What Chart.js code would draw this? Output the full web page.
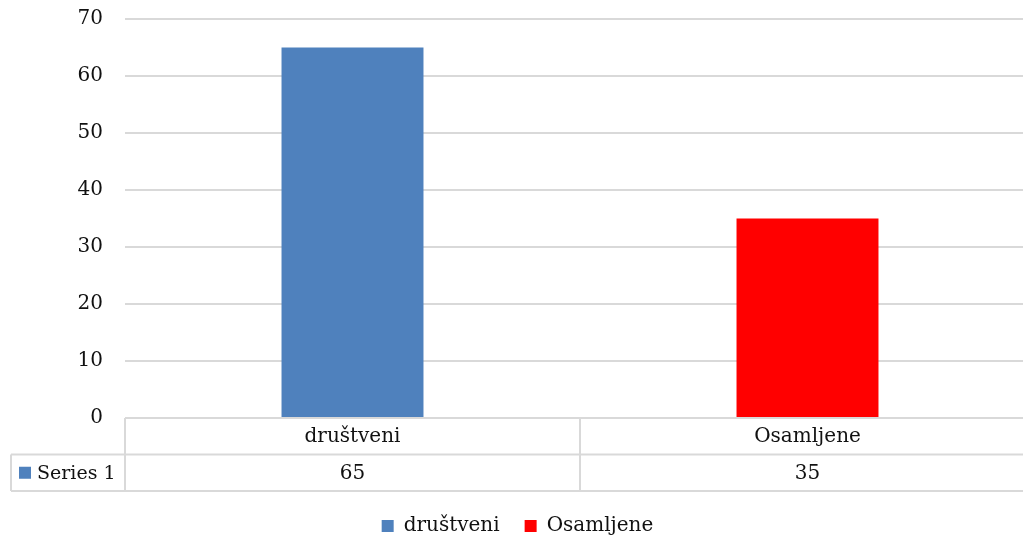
<!DOCTYPE html>
<html>
<head>
<meta charset="utf-8">
<script src="https://cdn.jsdelivr.net/npm/chart.js@4/dist/chart.umd.min.js"></script>
<style>
  html, body { margin: 0; padding: 0; background: #fff; overflow: hidden; width: 1023px; height: 540px; }
  canvas { display: block; }
</style>
</head>
<body>
<!-- canvas is a little larger than the window: the reference is cropped on the right and bottom -->
<canvas id="chart" width="1035" height="546"></canvas>
<script>
// --- Data ---
const categories = ['društveni', 'Osamljene'];
const seriesName = 'Series 1';
const seriesValues = [65, 35];
const barColors = ['#4F81BD', '#FF0000'];
const yTicks = [0, 10, 20, 30, 40, 50, 60, 70];

const FONT = 'DejaVu Serif';
const TEXT = '#111';
const GRID = '#d9d9d9';

// Draws the data table under the plot area (Excel-style)
const dataTablePlugin = {
  id: 'dataTable',
  afterDraw(chart) {
    const ctx = chart.ctx;
    const area = chart.chartArea;
    const x = chart.scales.x;
    const top = area.bottom;
    const rowH = 36.5;
    const mid = top + rowH;
    const bottom = top + rowH * 2;
    const tableLeft = 11;

    ctx.save();
    ctx.strokeStyle = GRID;
    ctx.lineWidth = 2;
    ctx.beginPath();
    // horizontal lines
    ctx.moveTo(area.left, top); ctx.lineTo(area.right, top);
    ctx.moveTo(tableLeft, mid); ctx.lineTo(area.right, mid);
    ctx.moveTo(tableLeft, bottom); ctx.lineTo(area.right, bottom);
    // vertical lines
    ctx.moveTo(tableLeft, mid); ctx.lineTo(tableLeft, bottom);
    ctx.moveTo(area.left, top); ctx.lineTo(area.left, bottom);
    for (let i = 1; i < categories.length; i++) {
      const xb = (x.getPixelForValue(i - 1) + x.getPixelForValue(i)) / 2;
      ctx.moveTo(xb, top); ctx.lineTo(xb, bottom);
    }
    ctx.stroke();

    ctx.fillStyle = TEXT;
    ctx.font = '20px "' + FONT + '"';
    ctx.textAlign = 'center';
    ctx.textBaseline = 'middle';
    categories.forEach((c, i) => {
      const cx = x.getPixelForValue(i);
      ctx.fillText(c, cx, top + rowH / 2 + 1);
      ctx.fillText(String(seriesValues[i]), cx, mid + rowH / 2 + 1);
    });

    // series key
    ctx.fillStyle = barColors[0];
    ctx.fillRect(19, mid + rowH / 2 - 6, 12, 12);
    ctx.fillStyle = TEXT;
    ctx.textAlign = 'left';
    ctx.font = '19px "' + FONT + '"';
    ctx.fillText(seriesName, 37, mid + rowH / 2 + 1);
    ctx.restore();
  }
};

const chart = new Chart(document.getElementById('chart'), {
  type: 'bar',
  data: {
    labels: categories,
    datasets: [{
      label: seriesName,
      data: seriesValues,
      backgroundColor: barColors,
      borderWidth: 0,
      barPercentage: 1,
      categoryPercentage: 0.312
    }]
  },
  options: {
    responsive: false,
    devicePixelRatio: 1,
    animation: false,
    layout: { padding: { top: 19, left: 0, right: 0, bottom: 0 } },
    scales: {
      x: {
        grid: { display: false },
        border: { display: false },
        ticks: { display: false },
        afterFit(scale) { scale.height = 73; }
      },
      y: {
        min: 0,
        max: 70,
        afterFit(scale) {
          scale.width = 125;
          scale.paddingTop = 0;
          scale.paddingBottom = 0;
        },
        afterBuildTicks(scale) { scale.ticks = yTicks.map(v => ({ value: v })); },
        grid: { color: GRID, lineWidth: 2, drawTicks: false },
        border: { display: false },
        ticks: { padding: 22, color: TEXT, font: { family: FONT, size: 20 } }
      }
    },
    plugins: {
      tooltip: { enabled: false },
      legend: {
        position: 'bottom',
        labels: {
          boxWidth: 12,
          boxHeight: 12,
          padding: 25,
          color: TEXT,
          font: { family: FONT, size: 20 },
          generateLabels() {
            return categories.map((c, i) => ({
              text: c,
              fillStyle: barColors[i],
              strokeStyle: barColors[i],
              lineWidth: 0,
              fontColor: TEXT,
              index: i
            }));
          }
        }
      }
    }
  },
  plugins: [dataTablePlugin]
});
</script>
</body>
</html>
